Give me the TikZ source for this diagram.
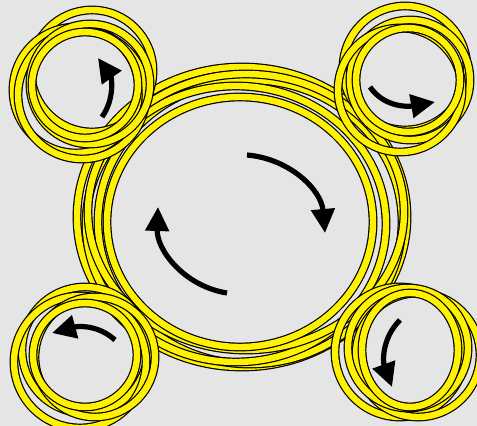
\documentclass[tikz,border=0pt]{standalone}
\usepackage{tikz}
\usetikzlibrary{arrows.meta}

\begin{document}
\begin{tikzpicture}[x=1pt, y=1pt, >={Triangle[length=24pt, width=23pt]},
    ringline/.style={draw=black, line width=1.2pt, double=yellow, double distance=6.4pt},
    spinarrow/.style={->, line width=5.2pt}]
    % Nền xám
    \fill[gray!20] (0,0) rectangle (477,426);
    \useasboundingbox (0,0) rectangle (477,426);

    % Vòng lớn ở giữa
    \foreach \cx/\cy/\rx/\ry in {242/209/165/150, 250/204/152/142, 236/202/150/138,
                                 246/214/158/138, 240/204/133/125}
        \draw[ringline] (\cx,\cy) ellipse (\rx pt and \ry pt);

    % Các vòng nhỏ ở bốn góc
    \foreach \cx/\cy/\rx/\ry in {92/355/61/61, 76/336/63/63, 82/331/64/64, 90/342/60/60, 85/341/53/53}
        \draw[ringline] (\cx,\cy) ellipse (\rx pt and \ry pt);
    \foreach \cx/\cy/\rx/\ry in {405/358/62/62, 410/346/60/60, 400/336/62/62, 408/346/52/52}
        \draw[ringline] (\cx,\cy) ellipse (\rx pt and \ry pt);
    \foreach \cx/\cy/\rx/\ry in {85/76/63/63, 80/64/66/66, 95/69/60/60, 85/71/52/52}
        \draw[ringline] (\cx,\cy) ellipse (\rx pt and \ry pt);
    \foreach \cx/\cy/\rx/\ry in {400/74/65/65, 418/71/62/62, 408/78/60/60, 410/76/48/57}
        \draw[ringline] (\cx,\cy) ellipse (\rx pt and \ry pt);

    % Mũi tên quay (vòng lớn)
    \coordinate (bigRs) at (247,271);
    \coordinate (bigRe) at (325,193);
    \coordinate (bigLs) at (227,133);
    \coordinate (bigLe) at (158,219);
    \draw[spinarrow] (bigRs) to[out=-5, in=95] (bigRe);
    \draw[spinarrow] (bigLs) to[out=171, in=268] (bigLe);

    % Mũi tên quay (vòng nhỏ)
    \coordinate (tlS) at (102,309);
    \coordinate (tlE) at (98,368);
    \coordinate (trS) at (370,339);
    \coordinate (trE) at (435,324);
    \coordinate (blS) at (115,86);
    \coordinate (blE) at (52,93);
    \coordinate (brS) at (400,106);
    \coordinate (brE) at (392,39);
    \draw[spinarrow] (tlS) to[out=55, in=-55] (tlE);
    \draw[spinarrow] (trS) to[out=-55, in=190] (trE);
    \draw[spinarrow] (blS) to[out=138, in=15] (blE);
    \draw[spinarrow] (brS) to[out=225, in=110] (brE);
\end{tikzpicture}
\end{document}
